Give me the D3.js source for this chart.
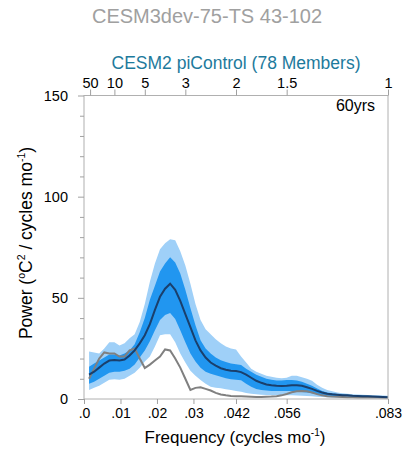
<!DOCTYPE html>
<html><head><meta charset="utf-8">
<script src="https://cdn.jsdelivr.net/npm/d3@7"></script>
<style>body{margin:0;background:#fff}svg{display:block;font-family:"Liberation Sans",Arial,Helvetica,sans-serif}</style>
</head><body>
<svg id="c" width="415" height="455"></svg>
<script>
// frequency index k -> k/720 cycles per month
const freqIdx = d3.range(1, 61);
const obsTS = [10,15,20,23,22.5,22.5,21,21,24,25,20,15.3,17,19,21,24.5,24,20,15.5,10,4.5,5.5,5.8,5,4.2,3,2.2,1.8,1.5,1.4,1.3,1.2,1.1,1.0,1.0,1.1,1.2,1.4,1.8,2.5,3.3,3.8,3.9,3.8,3.2,2.4,1.8,1.4,1.2,1.1,1.0,0.9,0.9,0.8,0.8,0.7,0.7,0.7,0.6,0.6];
const ensMean = [12,13.5,15.5,17.5,19,19.3,19,19.5,21.5,24,27.5,31.5,37,44,50.5,54.5,57,54,48.5,42,35.5,29,24,20.5,18,16.5,15.2,14.5,14,13.8,13.3,12,10.5,9,8,7.2,6.8,6.5,6.4,6.5,6.8,6.8,6.5,5.8,5,4,3.2,2.6,2.3,2.1,1.9,1.8,1.6,1.5,1.4,1.3,1.2,1.1,1.0,0.9];
const outerHi = [23.5,23,22.5,25,28,28,26.5,27.5,30,32,38,47,58,67,74,77,79,78.5,73,66,57,47,39,34.5,32,29.5,27.5,26,25,24.5,21,18,15,13.5,12.5,11.5,11,10.5,10.3,10.5,11.5,11.5,10.8,10,9,7,5.5,4.5,3.8,3.2,2.8,2.6,2.4,2.2,2.1,2.0,1.9,1.8,1.7,1.6];
const innerHi = [16,17.5,19,20.5,22,22,21.5,22.5,24,27,33,40,49,56,63,67,70,67.5,62,54,45,36.5,29,25,22.5,20.5,19.2,18.3,17.6,17.2,16.8,15,13.5,12,11,10,9.5,9.2,9.2,9.4,9.4,9.2,8.5,7.5,6.5,5.2,4,3.2,2.8,2.5,2.3,2.1,1.9,1.8,1.7,1.6,1.5,1.4,1.3,1.2];
const innerLo = [7.5,8.5,10,11.5,13,13.5,13.5,14,15,17,20.5,24,28.5,34,39,41.5,42.5,39.5,34,28,22.5,18.5,15.5,13.5,12.5,11.8,11,10.3,9.8,9.5,9.3,7.5,6,5,4.5,4.2,4,3.9,3.9,4,4,3.8,3.5,3.2,2.8,2.3,1.9,1.6,1.4,1.3,1.2,1.1,1.0,1.0,0.9,0.9,0.8,0.8,0.7,0.7];
const outerLo = [4.5,5.5,6.5,8,9.5,9.8,9.5,10,11.5,13,15.5,18.5,21,26,31.5,32,32,28,22.5,18,14,11.5,9.4,7.5,6,5.6,5.3,4.8,4.4,4,3.6,3,2.6,2.3,2.1,2,1.9,1.9,1.9,1.9,1.8,1.7,1.6,1.5,1.3,1.1,1.0,0.9,0.8,0.8,0.7,0.7,0.6,0.6,0.6,0.5,0.5,0.5,0.5,0.5];

const bottomTicks = [0, 0.01, 0.02, 0.03, 1/24, 1/18, 1/12];
const bottomLabels = [".0", ".01", ".02", ".03", ".042", ".056", ".083"];
const topPeriods = [50, 10, 5, 3, 2, 1.5, 1];
const topLabels = ["50", "10", "5", "3", "2", "1.5", "1"];
const yMajor = [0, 50, 100, 150];

const svg = d3.select("#c");
const L = 84, R = 388, T = 95.5, B = 399;
const x = d3.scaleLinear().domain([0, 1/12]).range([L, R]);
const y = d3.scaleLinear().domain([0, 150]).range([B, T]);
const freqs = freqIdx.map(k => k / 720);

const area = (lo, hi) => d3.area().x((d, i) => x(freqs[i])).y0((d, i) => y(lo[i])).y1((d, i) => y(hi[i]));
const line = arr => d3.line().x((d, i) => x(freqs[i])).y((d, i) => y(arr[i]));

svg.append("path").datum(freqIdx).attr("d", area(outerLo, outerHi)).attr("fill", "#9fd0f8");
svg.append("path").datum(freqIdx).attr("d", area(innerLo, innerHi)).attr("fill", "#2196f0");
svg.append("path").datum(freqIdx).attr("d", line(obsTS)).attr("fill", "none").attr("stroke", "#808080").attr("stroke-width", 2);
svg.append("path").datum(freqIdx).attr("d", line(ensMean)).attr("fill", "none").attr("stroke", "#1a3f6c").attr("stroke-width", 2);

// frame
svg.append("rect").attr("x", L).attr("y", T).attr("width", R - L).attr("height", B - T)
  .attr("fill", "none").attr("stroke", "#b0b0b0").attr("stroke-width", 1);

const tickCol = "#a0a0a0";
// left axis
const yAx = svg.append("g").attr("transform", `translate(${L},0)`)
  .call(d3.axisLeft(y).tickValues(d3.range(0, 151, 10)).tickSize(6).tickFormat(d => yMajor.includes(d) ? d : ""));
yAx.select(".domain").remove();
yAx.selectAll(".tick line").attr("stroke", tickCol).attr("x2", d => yMajor.includes(d) ? -6 : -4);
yAx.selectAll(".tick text").attr("x", -16).attr("font-size", 14.5).attr("fill", "#000").attr("font-family", "Liberation Sans, Arial, sans-serif");

// bottom axis
const xAx = svg.append("g").attr("transform", `translate(0,${B})`)
  .call(d3.axisBottom(x).tickValues(bottomTicks).tickSize(5).tickFormat((d, i) => bottomLabels[i]));
xAx.select(".domain").remove();
xAx.selectAll(".tick line").attr("stroke", tickCol);
xAx.selectAll(".tick text").attr("y", 9).attr("font-size", 14).attr("fill", "#000").attr("font-family", "Liberation Sans, Arial, sans-serif");

// top axis (period in years)
const topVals = topPeriods.map(p => 1 / (12 * p));
const tAx = svg.append("g").attr("transform", `translate(0,${T})`)
  .call(d3.axisTop(x).tickValues(topVals).tickSize(6).tickFormat((d, i) => topLabels[i]));
tAx.select(".domain").remove();
tAx.selectAll(".tick line").attr("stroke", tickCol);
tAx.selectAll(".tick text").attr("y", -8).attr("font-size", 14.5).attr("fill", "#000").attr("font-family", "Liberation Sans, Arial, sans-serif");

// titles
svg.append("text").attr("x", 207).attr("y", 23).attr("text-anchor", "middle")
  .attr("font-size", 20).attr("fill", "#a0a0a0").text("CESM3dev-75-TS 43-102");
svg.append("text").attr("x", 236).attr("y", 69).attr("text-anchor", "middle")
  .attr("font-size", 17.5).attr("fill", "#1d7a9c").text("CESM2 piControl (78 Members)");
svg.append("text").attr("x", 375).attr("y", 111).attr("text-anchor", "end")
  .attr("font-size", 16).attr("fill", "#000").text("60yrs");

// x label
const xl = svg.append("text").attr("x", 235).attr("y", 443).attr("text-anchor", "middle")
  .attr("font-size", 17).attr("fill", "#000");
xl.append("tspan").text("Frequency (cycles mo");
xl.append("tspan").attr("font-size", 10).attr("dy", -7).text("-1");
xl.append("tspan").attr("dy", 7).text(")");

// y label
const yl = svg.append("text").attr("transform", "translate(32,243) rotate(-90)").attr("text-anchor", "middle")
  .attr("font-size", 17.5).attr("fill", "#000");
yl.append("tspan").text("Power (");
yl.append("tspan").attr("font-size", 10.5).attr("dy", -7).text("o");
yl.append("tspan").attr("dy", 7).text("C");
yl.append("tspan").attr("font-size", 10.5).attr("dy", -7).text("2");
yl.append("tspan").attr("dy", 7).text(" / cycles mo");
yl.append("tspan").attr("font-size", 10.5).attr("dy", -7).text("-1");
yl.append("tspan").attr("dy", 7).text(")");
</script>
</body></html>
